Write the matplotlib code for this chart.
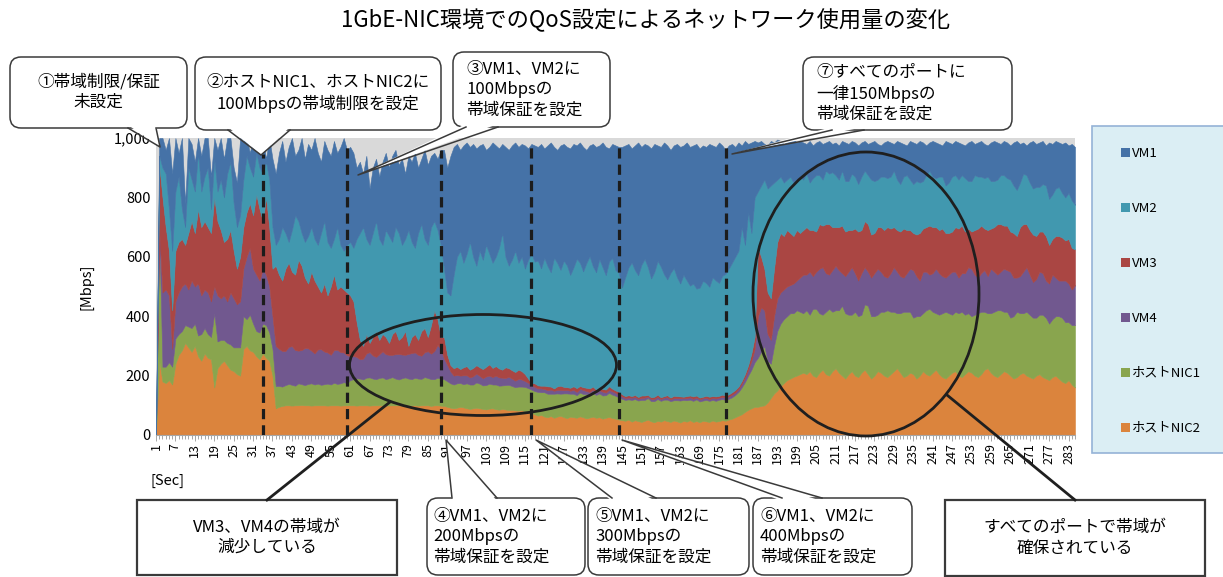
import numpy as np
import matplotlib.pyplot as plt
from matplotlib.patches import FancyBboxPatch, Rectangle, Ellipse, Polygon, Patch

plt.rcParams['font.family'] = ['Noto Sans CJK JP', 'DejaVu Sans']

title = "1GbE-NIC環境でのQoS設定によるネットワーク使用量の変化"
series_names = ["VM1", "VM2", "VM3", "VM4", "ホストNIC1", "ホストNIC2"]
series_colors = ["#4572A7", "#4198AF", "#AA4643", "#71588F", "#89A54E", "#DB843D"]

sec = np.arange(1, 286)

# per-second throughput [Mbps]
nic2 = [0,
    250, 180, 175, 185, 170, 240, 270, 285, 310, 295, 280, 300, 265, 250, 275, 260, 255, 160,
    225, 240, 250, 235, 220, 215, 205, 200, 290, 300, 285, 280, 265, 255, 275, 260, 250, 200,
    90, 95, 98, 100, 100, 99, 100, 100, 101, 100, 100, 99, 100, 100, 100, 100, 99, 100, 100, 100, 99, 100, 100,
    100, 100, 99, 100, 100, 100, 99, 100, 100, 100, 100, 99, 100, 100, 100, 100, 99, 100, 100, 100,
    100, 99, 100, 100, 100, 98, 100, 100, 99,
    98, 95, 92, 90, 92, 95, 93, 90, 88, 90, 92, 90, 88, 86, 89, 90, 87, 85, 88, 86, 84, 85, 83, 82, 84, 80, 78, 75,
    70, 65, 68, 62, 60, 64, 58, 62, 65, 60, 57, 62, 60, 58, 63, 60, 56, 59, 62, 58, 60, 55, 58, 61, 57, 55, 52,
    50, 48, 52, 45, 50, 47, 44, 48, 52, 46, 43, 48, 45, 50, 47, 44, 49, 46, 42, 48, 45, 50, 44, 47, 43, 48, 46,
    44, 49, 45, 47, 50, 48,
    52, 55, 60, 65, 70, 78, 85, 90, 95,
    95, 98, 100, 110, 125, 140, 150, 165, 175, 185, 190, 196, 200, 205,
    210, 205, 215, 200, 195, 210, 220, 205, 200, 215, 225, 210, 200, 190, 205, 215, 200, 195, 210, 220,
    205, 190, 200, 215, 210, 200, 195, 205, 215, 225, 210, 195, 200, 210, 205, 190, 200, 215, 205, 200,
    210, 220, 205, 195, 190, 200, 210, 215, 200, 195, 205, 215, 210, 200, 195, 205, 220, 225, 210, 200,
    195, 205, 215, 210, 200, 190, 195, 205, 210, 200, 195, 190, 200, 205, 195, 190, 185, 195, 200, 190,
    180, 175, 185, 170, 160]

nic1 = [0,
    440, 50, 55, 60, 60, 85, 70, 65, 60, 70, 80, 75, 70, 90, 85, 80, 75, 250,
    90, 80, 70, 75, 85, 80, 90, 95, 110, 90, 120, 95, 85, 90, 100, 110, 95, 90,
    75, 70, 65, 68, 72, 70, 66, 74, 70, 68, 72, 75, 70, 73, 69, 71, 74, 70, 76, 72, 75, 78, 74,
    85, 88, 92, 90, 87, 93, 95, 90, 88, 92, 94, 89, 91, 95, 90, 87, 92, 94, 90, 88,
    93, 91, 89, 95, 92, 90, 88, 93, 91,
    90, 86, 82, 80, 82, 80, 78, 84, 82, 80, 85, 83, 79, 82, 84, 80, 83, 81, 79, 82, 85, 80, 78, 81, 79, 82, 80, 78,
    78, 80, 76, 82, 79, 75, 81, 78, 74, 80, 83, 77, 79, 76, 80, 78, 82, 75, 79, 77, 80, 78, 76, 81, 79, 77, 75,
    72, 70, 68, 73, 71, 69, 74, 70, 72, 68, 71, 73, 70, 69, 72, 70, 68, 71, 74, 70, 72, 69, 71, 73, 70, 68, 72,
    71, 69, 70, 72, 71, 70,
    70, 72, 75, 80, 90, 100, 115, 130, 150,
    165, 182, 200, 140, 115, 160, 200, 210, 215, 215, 220, 214, 220, 210,
    200, 215, 190, 225, 230, 200, 185, 210, 225, 200, 195, 210, 235, 220, 200, 190, 215, 205, 195, 220,
    230, 210, 200, 190, 205, 215, 225, 210, 200, 185, 200, 220, 215, 205, 190, 210, 200, 195, 215, 225,
    205, 190, 200, 215, 225, 210, 195, 200, 210, 220, 200, 195, 190, 205, 215, 210, 195, 185, 200, 215,
    225, 215, 200, 205, 195, 210, 220, 205, 200, 215, 210, 205, 195, 200, 210, 205, 190, 195, 200, 210,
    215, 205, 195, 200, 210]

vm4 = [0,
    0, 250, 260, 225, 60, 125, 140, 150, 140, 125, 160, 125, 175, 130, 130, 140, 120, 90,
    155, 140, 150, 140, 175, 165, 145, 155, 160, 210, 225, 185, 190, 175, 185, 170, 155, 110,
    135, 125, 120, 115, 125, 130, 120, 110, 115, 125, 120, 110, 105, 115, 120, 110, 105, 100, 110, 115, 105, 100, 95,
    80, 78, 72, 65, 70, 82, 85, 78, 75, 80, 88, 84, 79, 75, 82, 86, 80, 76, 83, 88,
    85, 80, 78, 84, 90, 86, 95, 110, 100,
    70, 55, 40, 30, 28, 25, 30, 27, 24, 28, 30, 26, 24, 29, 27, 25, 30, 28, 26, 24, 27, 25, 22, 26, 24, 20, 18, 15,
    14, 12, 13, 11, 12, 14, 10, 12, 13, 11, 12, 10, 13, 11, 12, 14, 10, 11, 12, 10, 11, 13, 9, 10, 11, 10, 9,
    8, 7, 6, 8, 7, 6, 7, 8, 6, 7, 8, 7, 6, 7, 8, 6, 7, 7, 8, 6, 7, 8, 7, 6, 7, 8, 7, 6, 7, 8, 7, 7, 8,
    8, 9, 8, 10, 12, 15, 20, 30, 45,
    140, 150, 120, 90, 80, 100, 110, 105, 100, 100, 95, 100, 100, 115,
    130, 120, 145, 110, 125, 150, 160, 130, 115, 140, 150, 135, 110, 125, 145, 160, 130, 120, 140, 125,
    115, 130, 145, 155, 135, 120, 110, 130, 150, 140, 125, 115, 130, 145, 160, 135, 120, 140, 130, 115,
    130, 150, 140, 125, 115, 130, 145, 135, 120, 130, 140, 155, 160, 135, 120, 130, 140, 125, 150, 135,
    120, 130, 145, 140, 155, 130, 115, 125, 140, 150, 135, 120, 130, 145, 140, 125, 135, 150, 130, 120,
    125, 140, 130, 120, 135]

vm3 = [0,
    220, 320, 210, 150, 130, 170, 170, 160, 130, 190, 200, 180, 250, 230, 230, 220, 230, 300,
    250, 230, 180, 210, 210, 160, 120, 150, 140, 150, 150, 180, 270, 240, 160, 260, 200, 160,
    270, 250, 237, 277, 283, 251, 254, 306, 284, 237, 218, 266, 245, 212, 191, 229, 192, 230, 254, 203, 221, 212, 211,
    205, 184, 117, 65, 43, 65, 31, 62, 87, 48, 58, 58, 40, 70, 78, 47, 59, 80, 27, 54,
    62, 50, 83, 81, 48, 96, 137, 87, 40,
    72, 34, 21, 25, 28, 22, 27, 31, 26, 28, 28, 29, 31, 33, 38, 31, 32, 30, 27, 36, 29, 28, 29, 31, 28, 23, 14, 7,
    12, 10, 9, 11, 13, 10, 8, 12, 14, 11, 9, 10, 12, 13, 10, 9, 11, 12, 10, 8, 11, 9, 10, 12, 9, 8, 10,
    7, 6, 8, 5, 7, 6, 8, 7, 5, 6, 7, 8, 6, 5, 7, 6, 8, 7, 6, 5, 7, 6, 8, 7, 6, 5, 7, 8, 6, 7, 6, 8, 7,
    7, 8, 9, 8, 10, 12, 15, 25, 40,
    230, 170, 140, 140, 140, 160, 190, 200, 180, 190, 175, 160, 170, 150,
    150, 160, 140, 155, 135, 150, 140, 165, 170, 145, 130, 145, 160, 150, 140, 125, 150, 165, 145, 155,
    160, 145, 135, 140, 150, 155, 170, 150, 135, 140, 150, 165, 145, 130, 125, 140, 160, 145, 150, 165,
    155, 140, 145, 160, 150, 140, 135, 150, 165, 160, 140, 130, 125, 150, 165, 160, 140, 155, 135, 150,
    170, 160, 145, 150, 135, 150, 140, 165, 160, 145, 150, 160, 145, 135, 140, 150, 130, 120, 140, 150,
    145, 135, 150, 140, 120]

vm2 = [0,
    30, 100, 180, 140, 200, 200, 220, 100, 60, 220, 140, 140, 190, 120, 150, 200, 80, 130,
    100, 170, 150, 220, 230, 160, 140, 140, 160, 190, 120, 130, 140, 140, 160, 120, 160, 140,
    70, 120, 180, 120, 70, 140, 200, 130, 110, 120, 160, 150, 140, 140, 200, 210, 180, 130, 120, 210, 140, 130, 160,
    180, 180, 280, 360, 400, 320, 330, 350, 370, 340, 300, 360, 360, 310, 350, 360, 310, 310, 390, 320,
    290, 360, 360, 300, 310, 330, 300, 300, 310,
    230, 210, 235, 315, 370, 398, 352, 378, 430, 374, 335, 392, 368, 410, 372, 354, 368, 406, 460, 372,
    345, 372, 408, 360, 385, 355, 400, 435,
    410, 420, 395, 430, 405, 385, 440, 415, 390, 425, 410, 380, 400, 435, 415, 390, 420, 445, 405, 395,
    430, 410, 385, 420, 440, 405, 400,
    360, 400, 430, 450, 420, 410, 440, 460, 430, 400, 420, 450, 440, 410, 390, 420, 430, 400, 380, 410,
    390, 370, 380, 360, 370, 390, 380, 370, 400, 390, 380, 400, 410,
    423, 436, 448, 457, 518, 435, 515, 405, 470,
    190, 240, 300, 350, 380, 290, 210, 190, 180, 170, 190, 180, 170, 190,
    170, 180, 160, 175, 190, 165, 155, 180, 170, 185, 175, 160, 185, 170, 165, 190, 175, 160, 180, 170,
    165, 185, 175, 160, 170, 180, 165, 175, 190, 170, 160, 175, 185, 170, 165, 180, 170, 160, 175, 185,
    170, 165, 180, 175, 160, 170, 185, 175, 165, 170, 180, 160, 170, 185, 175, 165, 170, 180, 160, 155,
    150, 165, 170, 160, 175, 160, 155, 150, 170, 165, 160, 155, 165, 150, 160, 170, 155, 150, 160, 165,
    150, 145, 155, 160, 150]

vm1 = [0,
    60, 100, 80, 240, 260, 180, 80, 240, 80, 100, 120, 100, 50, 120, 130, 100, 110, 70,
    140, 140, 130, 120, 80, 120, 150, 260, 130, 60, 50, 130, 50, 60, 120, 10, 140, 230,
    240, 290, 290, 240, 320, 310, 200, 240, 320, 280, 310, 260, 340, 310, 240, 270, 310, 310, 330, 250, 330, 380, 320,
    320, 320, 240, 240, 180, 280, 190, 220, 210, 210, 280, 260, 230, 290, 260, 230, 290, 220, 250, 270,
    320, 220, 220, 300, 270, 240, 230, 240, 320,
    400, 420, 470, 430, 380, 340, 395, 375, 320, 380, 395, 355, 390, 320, 360, 405, 375, 335, 300, 370,
    390, 385, 365, 390, 380, 415, 375, 370,
    391, 383, 419, 369, 406, 437, 373, 381, 419, 393, 399, 426, 416, 382, 405, 419, 381, 373, 412, 422,
    383, 420, 432, 381, 384, 420, 424,
    473, 444, 416, 384, 420, 447, 397, 387, 410, 438, 431, 389, 403, 444, 451, 414, 413, 449, 460, 436,
    464, 467, 465, 487, 469, 456, 458, 481, 444, 450, 473, 439, 417,
    415, 400, 370, 365, 275, 350, 230, 305, 190,
    165, 150, 120, 145, 150, 135, 135, 120, 130, 125, 120, 145, 125, 120,
    125, 100, 140, 110, 110, 115, 120, 95, 110, 95, 110, 115, 100, 130, 125, 110, 115, 130, 115, 100,
    105, 125, 135, 120, 105, 115, 125, 115, 90, 130, 140, 110, 100, 130, 140, 125, 140, 130, 100, 95,
    120, 120, 110, 105, 150, 135, 110, 115, 125, 105, 110, 130, 135, 105, 115, 120, 115, 105, 130, 135,
    125, 105, 115, 120, 115, 145, 165, 130, 105, 100, 135, 160, 145, 150, 145, 135, 190, 170, 160, 150,
    165, 185, 160, 190, 195]

# seconds where a QoS setting was changed (dashed markers) and their heights
event_sec = [34, 60, 89, 117, 144, 177]
event_top = [945, 970, 960, 970, 970, 970]

W, H = 1223, 577
fig = plt.figure(figsize=(W / 100, H / 100), dpi=100)
ax = fig.add_axes([156 / W, 1 - 435 / H, (1075 - 156) / W, (435 - 138) / H])
ax.set_facecolor('#D9D9D9')

polys = ax.stackplot(sec, nic2, nic1, vm4, vm3, vm2, vm1,
                     colors=series_colors[::-1], labels=series_names[::-1],
                     linewidth=0.4, edgecolor='face')

ax.vlines(event_sec, 0, event_top, colors='#1c1c1c', linewidth=2.3,
          linestyles=(0, (3.2, 1.9)), zorder=4)

ax.set_xlim(1, 285)
ax.set_ylim(0, 1000)
ax.set_xticks(range(1, 286, 6))
ax.set_xticks(range(1, 286), minor=True)
ax.set_xticklabels([str(v) for v in range(1, 286, 6)], rotation=90, fontsize=9)
ax.set_yticks([0, 200, 400, 600, 800, 1000])
ax.set_yticklabels(['0', '200', '400', '600', '800', '1,000'], fontsize=10.5)
ax.tick_params(axis='x', which='both', color='#A6A6A6', width=0.7, pad=2)
ax.tick_params(axis='x', which='major', length=4)
ax.tick_params(axis='x', which='minor', length=3)
ax.tick_params(axis='y', length=0, pad=4)
for s in ['top', 'right', 'left']:
    ax.spines[s].set_visible(False)
ax.spines['bottom'].set_color('#A6A6A6')

ax.set_ylabel('[Mbps]', fontsize=10.5)
ax.yaxis.set_label_coords(-0.068, 0.5)
ax.set_xlabel('[Sec]', fontsize=10.5)
ax.xaxis.set_label_coords(0.012, -0.13)

fig.text(646 / W, 1 - 20 / H, title, ha='center', va='center', fontsize=16)

# overlay in pixel coordinates for the annotations
ov = fig.add_axes([0, 0, 1, 1], zorder=5)
ov.patch.set_alpha(0)
ov.axis('off')

EC = '#3a3a3a'


def bubble(x0, y0, x1, y1, text, base=None, tip=None, rounded=True,
           align='center', tx=None, fs=12):
    if rounded:
        box = FancyBboxPatch((x0, y0), x1 - x0, y1 - y0,
                             boxstyle='round,pad=0,rounding_size=11',
                             fc='white', ec=EC, lw=1.1)
    else:
        box = Rectangle((x0, y0), x1 - x0, y1 - y0, fc='white', ec=EC, lw=1.6)
    ov.add_patch(box)
    if base is not None:
        yb = y1 if tip[1] > y1 else y0
        inner = yb - 3 if tip[1] > y1 else yb + 3
        ov.add_patch(Polygon([(base[0], inner), (base[1], inner), tip],
                             closed=True, fc='white', ec='none', zorder=3))
        ov.plot([base[0], tip[0], base[1]], [yb, tip[1], yb], color=EC, lw=1.1, zorder=3)
    if tx is None:
        tx = (x0 + x1) / 2
    ov.text(tx, (y0 + y1) / 2, text, ha=align, va='center', multialignment=align,
            fontsize=fs, linespacing=1.25, zorder=4)


bubble(10, 57, 187, 128, "①帯域制限/保証\n未設定", base=(128, 156), tip=(160, 147))
bubble(195, 57, 441, 130, "②ホストNIC1、ホストNIC2に\n100Mbpsの帯域制限を設定",
       base=(228, 290), tip=(261, 155))
bubble(453, 52, 610, 127, "③VM1、VM2に\n100Mbpsの\n帯域保証を設定",
       base=(466, 498), tip=(358, 175), align='left', tx=466)
bubble(803, 57, 1012, 130, "⑦すべてのポートに\n一律150Mbpsの\n帯域保証を設定",
       base=(832, 864), tip=(732, 154), align='left', tx=816)
bubble(427, 498, 585, 575, "④VM1、VM2に\n200Mbpsの\n帯域保証を設定",
       base=(452, 497), tip=(446, 440), align='left', tx=433)
bubble(588, 498, 749, 575, "⑤VM1、VM2に\n300Mbpsの\n帯域保証を設定",
       base=(612, 656), tip=(536, 440), align='left', tx=595)
bubble(753, 498, 912, 575, "⑥VM1、VM2に\n400Mbpsの\n帯域保証を設定",
       base=(782, 822), tip=(622, 440), align='left', tx=760)
bubble(137, 500, 397, 575, "VM3、VM4の帯域が\n減少している", rounded=False)
bubble(945, 500, 1205, 576, "すべてのポートで帯域が\n確保されている", rounded=False)

ov.add_patch(Ellipse((483, 365), 267, 101, fill=False, ec='#1f1f1f', lw=2))
ov.add_patch(Ellipse((866, 294), 226, 284, fill=False, ec='#1f1f1f', lw=2))
ov.plot([267, 390], [500, 402], color='#1f1f1f', lw=2)
ov.plot([1075, 947], [500, 395], color='#1f1f1f', lw=2)

# legend panel
ov.add_patch(Rectangle((1092, 126), 150, 327, fc='#DBEEF4', ec='#95B3D7', lw=1.2, zorder=1))
handles = [Patch(fc=c, ec='none') for c in series_colors]
ov.legend(handles, series_names, loc='upper left', bbox_to_anchor=(1121 / W, 1 - 147 / H),
          frameon=False, fontsize=9.5, borderpad=0, borderaxespad=0, labelspacing=3.18,
          handlelength=0.65, handleheight=0.65, handletextpad=0.2)

ov.set_xlim(0, W)
ov.set_ylim(H, 0)

fig.savefig('out.png', dpi=100)
